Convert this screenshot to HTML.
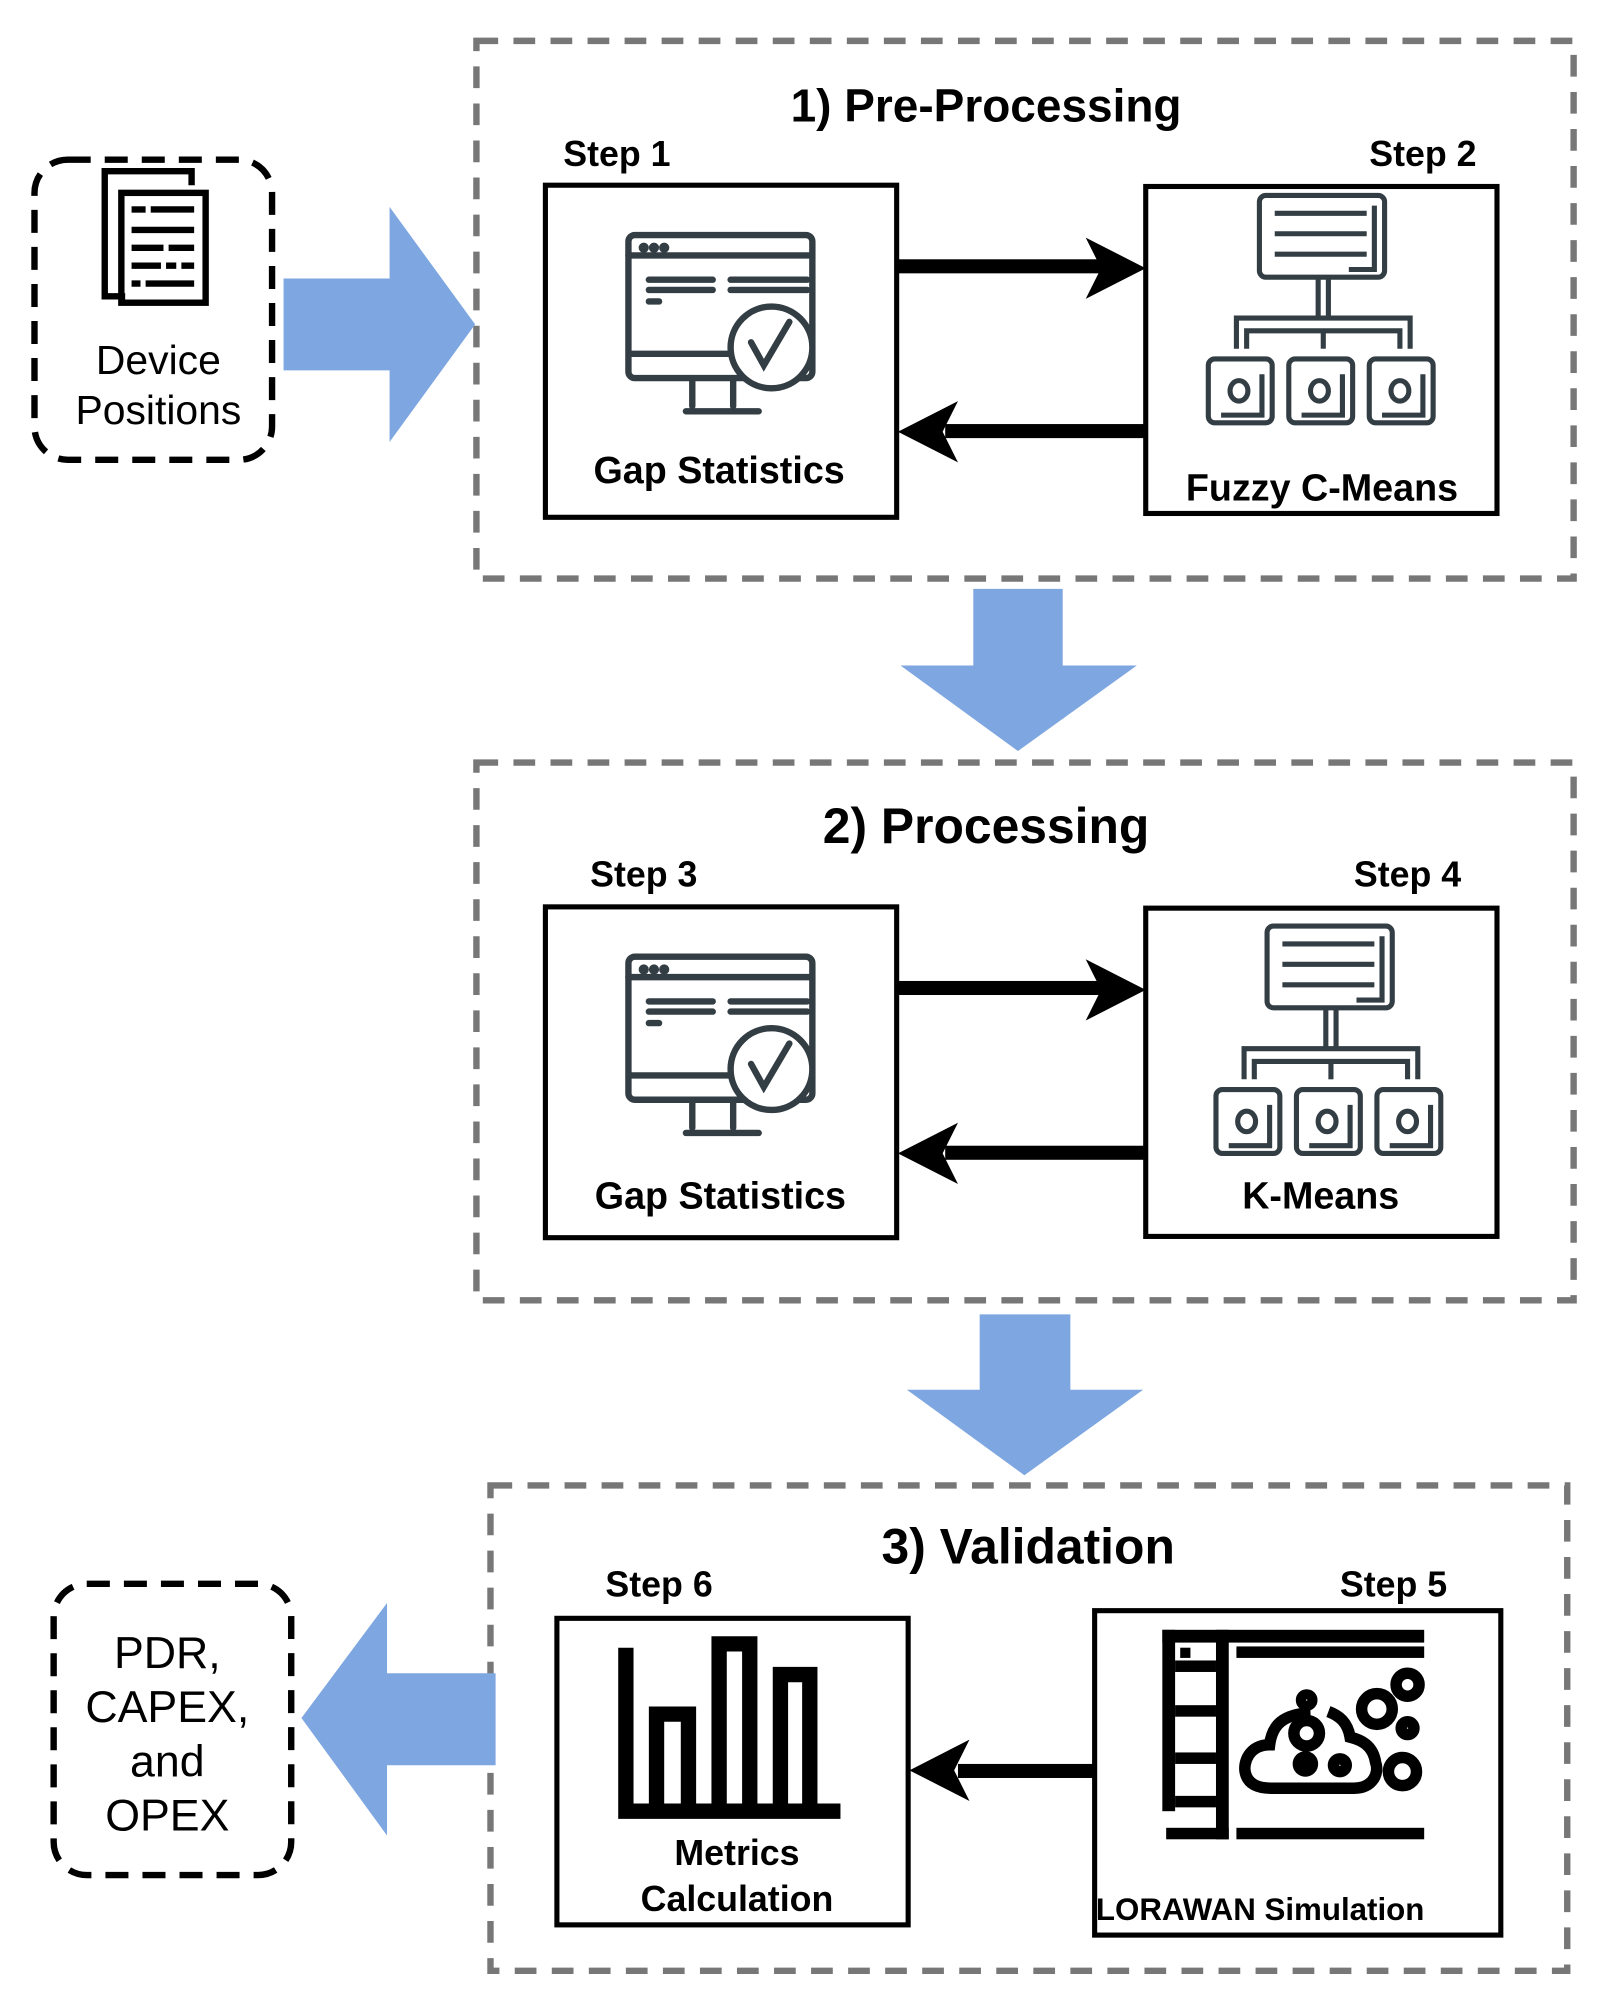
<!DOCTYPE html>
<html><head><meta charset="utf-8"><style>
html,body{margin:0;padding:0;background:#fff;}
svg{display:block;}
text{font-family:"Liberation Sans",sans-serif;fill:#000;}
</style></head><body>
<svg width="1607" height="2001" viewBox="0 0 1258 1566.6" preserveAspectRatio="xMinYMin meet" xmlns="http://www.w3.org/2000/svg">
<defs>
<g id="mon" fill="none" stroke="#333d44" stroke-width="5" stroke-linecap="round">
  <rect x="0" y="0" width="144" height="112" rx="5"/>
  <line x1="0" y1="16" x2="144" y2="16"/>
  <circle cx="12" cy="10" r="1.5" fill="#333d44"/><circle cx="20" cy="10" r="1.5" fill="#333d44"/><circle cx="28" cy="10" r="1.5" fill="#333d44"/>
  <line x1="16" y1="35" x2="66" y2="35"/><line x1="16" y1="43" x2="66" y2="43"/><line x1="16" y1="52" x2="24" y2="52"/>
  <line x1="80" y1="35" x2="140" y2="35"/><line x1="80" y1="43" x2="140" y2="43"/>
  <line x1="2" y1="93" x2="80" y2="93"/>
  <line x1="50" y1="112" x2="50" y2="134"/><line x1="82" y1="112" x2="82" y2="134"/>
  <line x1="45" y1="138" x2="102" y2="138"/>
  <circle cx="112" cy="88" r="32" fill="#fff"/>
  <polyline points="96,84 106,102 126,68"/>
</g>
<g id="tree" fill="none" stroke="#333d44" stroke-width="4">
  <rect x="40" y="0" width="98" height="64" rx="5"/>
  <line x1="52" y1="14" x2="124" y2="14"/><line x1="52" y1="30" x2="124" y2="30"/><line x1="52" y1="46" x2="124" y2="46"/>
  <polyline points="110,58 130,58 130,8"/>
  <line x1="86" y1="64" x2="86" y2="96"/><line x1="94" y1="64" x2="94" y2="96"/>
  <polyline points="22,120 22,96 158,96 158,120"/>
  <polyline points="30,120 30,106 150,106 150,120"/>
  <line x1="90" y1="106" x2="90" y2="120"/>
  <rect x="0" y="128" width="50" height="50" rx="5"/><rect x="63" y="128" width="50" height="50" rx="5"/><rect x="126" y="128" width="50" height="50" rx="5"/>
  <ellipse cx="24" cy="153" rx="7" ry="8"/><ellipse cx="87" cy="153" rx="7" ry="8"/><ellipse cx="150" cy="153" rx="7" ry="8"/>
  <polyline points="10,172 42,172 42,140"/><polyline points="73,172 105,172 105,140"/><polyline points="136,172 168,172 168,140"/>
</g>
</defs>

<g fill="none" stroke="#777" stroke-width="5" stroke-dasharray="17 12">
  <rect x="373" y="32" width="859" height="421"/>
  <rect x="373" y="597" width="859" height="421"/>
  <rect x="384" y="1163" width="843" height="380"/>
</g>

<g fill="#7ea6e0">
  <polygon points="222,218 305,218 305,162 372,254 305,346 305,290 222,290"/>
  <polygon points="762,461 832,461 832,521 890,521 797,588 705,521 762,521"/>
  <polygon points="767,1029 838,1029 838,1088 895,1088 802,1155 710,1088 767,1088"/>
  <polygon points="388,1310 303,1310 303,1255 236,1345 303,1437 303,1382 388,1382"/>
</g>

<g fill="none" stroke="#000" stroke-width="5" stroke-dasharray="18 11">
  <rect x="27" y="125" width="186" height="235" rx="26"/>
  <rect x="42" y="1240" width="186" height="228" rx="26"/>
</g>
<g fill="none" stroke="#000" stroke-width="5">
  <polyline points="98,232 82,232 82,134 150,134 150,145"/>
  <rect x="95" y="151" width="66" height="86"/>
</g>
<g stroke="#000" stroke-width="5">
  <line x1="103" y1="164" x2="114" y2="164"/><line x1="118" y1="164" x2="152" y2="164"/>
  <line x1="103" y1="180" x2="152" y2="180"/>
  <line x1="103" y1="194" x2="128" y2="194"/><line x1="132" y1="194" x2="152" y2="194"/>
  <line x1="103" y1="208" x2="126" y2="208"/><line x1="130" y1="208" x2="138" y2="208"/><line x1="142" y1="208" x2="152" y2="208"/>
  <line x1="103" y1="222" x2="110" y2="222"/><line x1="114" y1="222" x2="152" y2="222"/>
</g>
<text x="124" y="293" font-size="32" text-anchor="middle">Device</text>
<text x="124" y="332" font-size="32" text-anchor="middle">Positions</text>
<g font-size="35" text-anchor="middle">
<text x="131" y="1306">PDR,</text><text x="131" y="1348">CAPEX,</text><text x="131" y="1391">and</text><text x="131" y="1433">OPEX</text>
</g>

<g fill="none" stroke="#000" stroke-width="4">
  <rect x="427" y="145" width="275" height="260"/>
  <rect x="897" y="146" width="275" height="256"/>
  <rect x="427" y="710" width="275" height="259"/>
  <rect x="897" y="711" width="275" height="257"/>
  <rect x="436" y="1267" width="275" height="240"/>
  <rect x="857" y="1261" width="318" height="254"/>
</g>

<g fill="#000">
  <rect x="702" y="203" width="160" height="11"/><polygon points="850,186 897,210 850,234 862,210"/>
  <rect x="740" y="332" width="157" height="11"/><polygon points="750,314 703,338 750,362 738,338"/>
  <rect x="702" y="768" width="160" height="11"/><polygon points="850,751 897,775 850,799 862,775"/>
  <rect x="740" y="897" width="157" height="11"/><polygon points="750,879 703,903 750,927 738,903"/>
  <rect x="750" y="1381" width="107" height="11"/><polygon points="759,1362 712,1386 759,1410 747,1386"/>
</g>

<use href="#mon" transform="translate(492,184)"/>
<use href="#mon" transform="translate(492,749)"/>
<use href="#tree" transform="translate(946,153)"/>
<use href="#tree" transform="translate(952,725)"/>

<g fill="none" stroke="#000" stroke-width="12">
  <polyline points="490,1290 490,1418 658,1418"/>
  <polyline points="514,1418 514,1342 539,1342 539,1418"/>
  <polyline points="563,1418 563,1287 587,1287 587,1418"/>
  <polyline points="611,1418 611,1311 634,1311 634,1418"/>
</g>

<g fill="#000">
  <rect x="910" y="1276" width="205" height="10"/>
  <rect x="910" y="1276" width="10" height="142"/>
  <rect x="952" y="1276" width="10" height="164"/>
  <rect x="913" y="1431" width="49" height="9"/>
  <rect x="968" y="1289" width="147" height="9"/>
  <rect x="968" y="1431" width="147" height="9"/>
  <rect x="920" y="1300" width="32" height="9"/><rect x="920" y="1335" width="32" height="9"/><rect x="920" y="1372" width="32" height="9"/><rect x="920" y="1406" width="32" height="9"/>
  <rect x="924" y="1290" width="8" height="8"/>
</g>
<g fill="none" stroke="#000" stroke-width="9">
  <path d="M1026,1341 C1005,1342 996,1350 994,1366 C978,1366 973,1380 975,1388 C977,1397 985,1400 995,1400 L1060,1400 C1075,1400 1080,1388 1077,1380 C1075,1366 1065,1362 1057,1360 C1055,1348 1048,1343 1040,1340"/>
  <circle cx="1023" cy="1357" r="10"/><circle cx="1023" cy="1331" r="4"/><circle cx="1049" cy="1382" r="5"/>
  <circle cx="1078" cy="1338" r="12"/><circle cx="1102" cy="1319" r="9"/><circle cx="1102" cy="1353" r="5"/><circle cx="1098" cy="1387" r="11"/>
</g>
<circle cx="1022" cy="1381" r="10" fill="#000"/>

<text x="772" y="95" font-size="36" text-anchor="middle" font-weight="bold">1) Pre-Processing</text>
<text x="772" y="660" font-size="39" text-anchor="middle" font-weight="bold">2) Processing</text>
<text x="805" y="1224" font-size="39" text-anchor="middle" font-weight="bold">3) Validation</text>
<g font-size="28" font-weight="bold">
<text x="441" y="130">Step 1</text>
<text x="1156" y="130" text-anchor="end">Step 2</text>
<text x="462" y="694">Step 3</text>
<text x="1144" y="694" text-anchor="end">Step 4</text>
<text x="474" y="1250">Step 6</text>
<text x="1133" y="1250" text-anchor="end">Step 5</text>
<text x="563" y="378" text-anchor="middle" font-size="29.5">Gap Statistics</text>
<text x="1035" y="392" text-anchor="middle" font-size="29.5">Fuzzy C-Means</text>
<text x="564" y="946" text-anchor="middle" font-size="29.5">Gap Statistics</text>
<text x="1034" y="946" text-anchor="middle" font-size="29.5">K-Means</text>
<text x="577" y="1460" text-anchor="middle">Metrics</text>
<text x="577" y="1496" text-anchor="middle">Calculation</text>
</g>
<text x="858" y="1503" font-size="24.5" font-weight="bold">LORAWAN Simulation</text>
</svg>
</body></html>
